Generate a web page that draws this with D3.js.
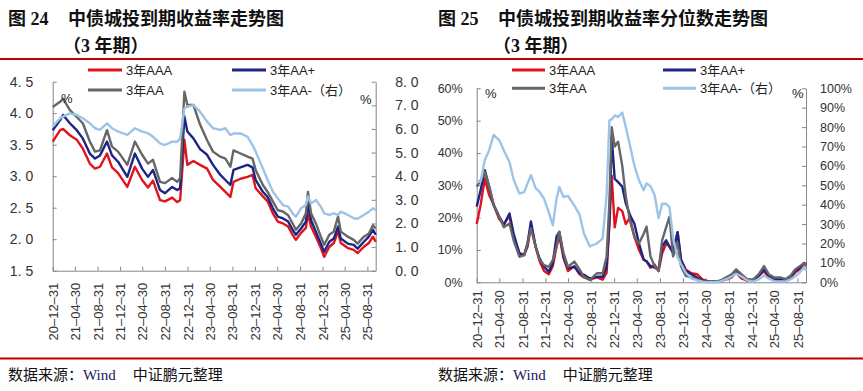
<!DOCTYPE html>
<html>
<head>
<meta charset="utf-8">
<script src="https://cdn.jsdelivr.net/npm/d3@7"></script>
<style>
  body { margin: 0; background: #fff; }
  svg { display: block; }
</style>
</head>
<body>
<script>
// ---- data: 图24 yields (%), AA- on the right axis
const yieldDates = ["2020-12-31","2021-02-09","2021-02-25","2021-04-03","2021-05-10","2021-06-12","2021-07-20","2021-08-17","2021-09-13","2021-10-21",
  "2021-11-17","2021-12-20","2022-02-08","2022-03-21","2022-04-29","2022-05-31","2022-06-27","2022-08-04","2022-08-31","2022-10-09",
  "2022-11-05","2022-11-21","2022-12-14","2022-12-30","2023-02-01","2023-03-09","2023-04-16","2023-05-18","2023-06-27","2023-07-24",
  "2023-08-20","2023-09-06","2023-10-14","2023-11-21","2023-12-18","2024-01-04","2024-02-12","2024-03-09","2024-04-06","2024-05-03",
  "2024-05-31","2024-06-28","2024-07-22","2024-08-09","2024-09-06","2024-10-02","2024-10-13","2024-10-30","2024-11-25","2024-12-22",
  "2025-01-09","2025-02-06","2025-03-02","2025-03-25","2025-04-09","2025-05-17","2025-06-18","2025-07-09","2025-08-12","2025-09-08",
  "2025-09-30","2025-10-15"];
const yieldAAA = [3.55,3.73,3.75,3.65,3.58,3.44,3.20,3.12,3.15,3.36,3.14,3.05,2.83,3.15,2.94,2.82,2.93,2.62,2.60,2.66,
  2.59,2.62,3.58,3.18,3.24,3.18,3.12,2.94,2.83,2.75,2.67,2.91,2.96,2.99,3.02,2.81,2.68,2.60,2.41,2.28,
  2.25,2.20,2.07,1.99,2.10,2.18,2.41,2.20,2.04,1.86,1.72,1.88,1.94,2.12,1.94,1.86,1.83,1.78,1.88,1.94,2.04,1.96];
const yieldAAplus = [3.73,3.89,3.97,3.84,3.73,3.60,3.36,3.28,3.33,3.55,3.33,3.23,2.99,3.36,3.12,2.99,3.10,2.78,2.73,2.83,
  2.78,2.81,3.95,3.71,3.60,3.43,3.34,3.18,3.02,2.94,2.86,3.10,3.14,3.18,3.14,2.94,2.75,2.67,2.49,2.36,
  2.33,2.28,2.15,2.07,2.17,2.28,2.57,2.30,2.12,1.93,1.80,1.96,2.01,2.20,2.01,1.93,1.91,1.85,1.96,2.04,2.15,2.07];
const yieldAA = [4.10,4.18,4.23,4.05,3.94,3.84,3.55,3.39,3.41,3.73,3.47,3.39,3.18,3.55,3.34,3.20,3.26,2.91,2.89,2.97,
  2.91,2.97,4.34,4.13,4.13,3.82,3.57,3.39,3.31,3.28,3.15,3.41,3.36,3.31,3.28,3.10,2.86,2.75,2.60,2.46,
  2.44,2.38,2.25,2.15,2.25,2.41,2.75,2.41,2.25,2.04,1.91,2.07,2.12,2.36,2.12,2.04,1.99,1.93,2.04,2.09,2.22,2.17];
const yieldAAminus = [6.10,6.45,6.52,6.66,6.59,6.45,6.24,6.03,5.96,6.24,6.03,5.89,5.75,6.03,5.89,5.82,5.67,5.39,5.32,5.46,
  5.46,5.60,6.87,6.94,7.01,6.73,6.31,6.03,5.96,6.03,5.74,5.81,5.81,5.67,5.32,5.04,4.33,3.84,3.35,3.06,
  2.78,2.71,2.43,2.29,2.64,2.78,3.14,2.85,2.99,2.71,2.43,2.36,2.43,2.36,2.50,2.36,2.22,2.20,2.36,2.50,2.64,2.57];

// ---- data: 图25 yield percentiles (%), AA- on the right axis
const pctDates = ["2020-12-31","2021-01-21","2021-02-12","2021-03-07","2021-03-31","2021-04-30","2021-05-24","2021-06-23","2021-07-15","2021-08-15",
  "2021-09-09","2021-09-27","2021-10-15","2021-11-09","2021-11-30","2021-12-24","2022-01-18","2022-02-08","2022-02-28","2022-03-15",
  "2022-04-06","2022-04-30","2022-06-03","2022-06-30","2022-07-24","2022-08-24","2022-09-30","2022-10-31","2022-11-21","2022-12-06",
  "2022-12-18","2023-01-03","2023-01-21","2023-02-12","2023-03-03","2023-03-24","2023-04-18","2023-05-12","2023-06-06","2023-06-21",
  "2023-07-12","2023-08-03","2023-08-24","2023-09-12","2023-10-03","2023-10-21","2023-11-09","2023-12-03","2023-12-21","2024-01-15",
  "2024-02-14","2024-03-15","2024-04-15","2024-05-15","2024-06-15","2024-07-15","2024-08-15","2024-09-15","2024-10-09","2024-11-06",
  "2024-12-06","2025-01-06","2025-02-06","2025-03-06","2025-03-31","2025-04-30","2025-05-31","2025-06-30","2025-07-24","2025-08-18",
  "2025-09-12","2025-10-06","2025-10-15"];
const pctAAA = [18,24,32,27,24,19.5,18,20.5,14,9,
  8.5,11,17.5,11,6.5,3.5,2.5,5,11,14.5,
  7.5,3.5,5,2.5,1.5,0.8,1.5,0.8,3,18,
  33,17,23,22,18,20,14,10,7,6.5,
  4.5,5.5,3.5,9,12,11,9.5,15.5,7,4,
  2.8,2.5,0.8,0.3,0.2,0.3,0.8,1.5,3,1.2,
  0.5,0.6,2,3.5,1.5,0.5,0.8,0.5,1.5,3,
  4,5.5,5];
const pctAAplus = [23.4,28.5,34.7,29.6,23.9,20.3,17.7,21.3,15.1,8.9,
  8.4,12,18.8,11,7.4,4.8,3.3,5.9,14.1,15.6,
  7.9,4.3,4.8,2.8,2.3,1.2,1.7,1.7,4.8,19.3,
  45,32,31,29.6,24.4,21,18,12,7,6.5,
  5,4.5,4,11,13,11,9,15.5,7,3.5,
  2.5,1.5,0.5,0.2,0.2,0.4,1,2,3.5,2,
  0.8,0.6,2,4,2,1,1,0.7,1.5,3.5,
  4.5,6,5.5];
const pctAA = [29.6,31.5,34.2,29.6,24,20.3,17,18.2,13,7.9,
  8.4,12,16.7,11,7,5.3,4.8,6.9,11,15.6,
  9,4.8,6.4,4,1.7,0.7,2.8,2.8,8,25,
  48,42,43.5,36,26.5,19.3,14,12,15,17.2,
  8,5,3.5,13,17,20.3,8,12,5,2,
  1.5,1,0.3,0.2,0.2,0.5,1.5,2.5,4,2.5,
  1,0.8,2.5,5,2.5,1.5,1.5,1,2,4,
  5,6,5.5];
const pctAAminus = [51.7,52,63,68,76,73.2,68,62,53,45.7,
  46.5,51,55.2,48.5,46.6,43,36,29.4,43,49.1,
  44,44.5,39.5,35,25,18.5,20,22.5,45,83.5,
  84,86,85.2,87.5,80,71,60,52.6,47.5,51,
  49.5,45,33,40.5,40.5,38.8,23,13,9.5,5,
  2,1,0.3,0,0,0.3,1.5,3,4.5,3,
  1,0.3,1.5,3.5,2,0.5,0.5,0.5,1.5,3,
  5,8,6];

const tickLabels = ["2020-12-31","2021-04-30","2021-08-31","2021-12-31","2022-04-30","2022-08-31","2022-12-31","2023-04-30",
  "2023-08-31","2023-12-31","2024-04-30","2024-08-31","2024-12-31","2025-04-30","2025-08-31"];
const yieldTicksLeft = [1.5, 2.0, 2.5, 3.0, 3.5, 4.0, 4.5];
const yieldTicksRight = [0, 1, 2, 3, 4, 5, 6, 7, 8];
const pctTicksLeft = [0, 10, 20, 30, 40, 50, 60];
const pctTicksRight = [0, 10, 20, 30, 40, 50, 60, 70, 80, 90, 100];
const seriesNames = ["3年AAA", "3年AA+", "3年AA", "3年AA-（右）"];
const colors = ["#e0141e", "#1b2584", "#666666", "#9dc3e6"];

const parse = d3.timeParse("%Y-%m-%d");
const xDomain = [parse("2020-12-31"), parse("2025-10-15")];
const fmtDate = d => d3.timeFormat("%y-%m-%d")(d).replace(/-/g, "–");
const sansFont = "'Liberation Sans', Arial, 'Noto Sans CJK SC', sans-serif";
const cjkFont = "'Noto Sans CJK SC', sans-serif";

const svg = d3.select("body").append("svg")
  .attr("width", 863)
  .attr("height", 391)
  .style("font-family", sansFont);

// header and footer rules
[59, 358.5].forEach(y => {
  svg.append("line").attr("x1", 0).attr("x2", 863).attr("y1", y).attr("y2", y)
    .attr("stroke", "#c00000").attr("stroke-width", 2);
});

function title(x, num, text) {
  const t = svg.append("text").attr("x", x).attr("y", 25)
    .attr("font-size", 18).attr("font-weight", 700).attr("fill", "#111");
  t.append("tspan").attr("font-family", cjkFont).text("图");
  t.append("tspan").attr("font-family", "'Liberation Serif', serif").text(" " + num);
  svg.append("text").attr("x", x + 60).attr("y", 25)
    .attr("font-size", 18).attr("font-weight", 700).attr("fill", "#111")
    .attr("font-family", cjkFont).text(text);
  const t2 = svg.append("text").attr("x", x + 55).attr("y", 52)
    .attr("font-size", 18).attr("font-weight", 700).attr("fill", "#111").attr("font-family", cjkFont);
  t2.append("tspan").text("（");
  t2.append("tspan").attr("font-family", "'Liberation Serif', serif").text("3 ");
  t2.append("tspan").text("年期）");
}
title(8, "24", "中债城投到期收益率走势图");
title(438, "25", "中债城投到期收益率分位数走势图");

function footer(x) {
  const t = svg.append("text").attr("x", x).attr("y", 380).attr("font-size", 15).attr("fill", "#111");
  t.append("tspan").attr("font-family", cjkFont).text("数据来源：");
  t.append("tspan").attr("font-family", "'Liberation Serif', serif").attr("fill", "#14205a").text("Wind");
  t.append("tspan").attr("font-family", cjkFont).attr("dx", 17).text("中证鹏元整理");
}
footer(8);
footer(438);

function drawPanel(p) {
  const x = d3.scaleTime().domain(xDomain).range([p.x0, p.x1]);
  const yL = d3.scaleLinear().domain(p.leftDomain).range([p.yB, p.yT]);
  const yR = d3.scaleLinear().domain(p.rightDomain).range([p.yB, p.yT]);
  const g = svg.append("g");
  const axisColor = "#868686";

  const ax = g.append("g").attr("transform", `translate(${p.x0},0)`)
    .call(d3.axisLeft(yL).tickValues(p.leftTicks).tickSize(-4).tickSizeOuter(0)
      .tickPadding(p.padL).tickFormat(p.fmtL));
  const ay = g.append("g").attr("transform", `translate(${p.x1},0)`)
    .call(d3.axisRight(yR).tickValues(p.rightTicks).tickSize(-4).tickSizeOuter(0)
      .tickPadding(p.padR).tickFormat(p.fmtR));
  const axb = g.append("g").attr("transform", `translate(0,${p.yB})`)
    .call(d3.axisBottom(x).tickValues(tickLabels.map(parse)).tickSize(-4).tickSizeOuter(0)
      .tickFormat(fmtDate));
  axb.selectAll("text")
    .attr("transform", "rotate(-90)")
    .attr("text-anchor", "end")
    .attr("x", -p.padB).attr("y", 0).attr("dy", "0.35em")
    .attr("font-size", p.dateSize);
  [ax, ay, axb].forEach(a => {
    a.attr("color", axisColor).attr("font-family", sansFont);
    a.selectAll("text").attr("fill", "#333");
  });
  ax.selectAll("text").attr("font-size", p.tickSize);
  ay.selectAll("text").attr("font-size", p.tickSize);

  p.series.forEach((s, i) => {
    const y = s.right ? yR : yL;
    const pts = s.values.map((v, k) => [x(parse(s.dates[k])), y(v)]);
    g.append("path")
      .attr("fill", "none")
      .attr("stroke", colors[i])
      .attr("stroke-width", 2.4)
      .attr("stroke-linejoin", "round")
      .attr("d", d3.line()(pts));
  });

  // legend
  p.legend.forEach((pos, i) => {
    g.append("line").attr("x1", pos[0]).attr("x2", pos[0] + p.legLen)
      .attr("y1", pos[1]).attr("y2", pos[1])
      .attr("stroke", colors[i]).attr("stroke-width", 3);
    g.append("text").attr("x", pos[0] + p.legLen + 4).attr("y", pos[1]).attr("dy", "0.35em")
      .attr("font-size", 13).attr("fill", "#222").text(seriesNames[i]);
  });

  p.units.forEach(u => {
    g.append("text").attr("x", u[0]).attr("y", u[1]).attr("dy", "0.35em")
      .attr("font-size", 13).attr("fill", "#222").text("%");
  });
}

drawPanel({
  x0: 52.7, x1: 375.7, yT: 81.7, yB: 270.7,
  leftDomain: [1.5, 4.5], rightDomain: [0, 8],
  leftTicks: yieldTicksLeft, rightTicks: yieldTicksRight,
  fmtL: d => d.toFixed(1).replace(".", ". "), fmtR: d => d.toFixed(1).replace(".", ". "),
  padL: 19.5, padR: 19.5, padB: 12, tickSize: 14, dateSize: 13,
  series: [
    { dates: yieldDates, values: yieldAAA },
    { dates: yieldDates, values: yieldAAplus },
    { dates: yieldDates, values: yieldAA },
    { dates: yieldDates, values: yieldAAminus, right: true }
  ],
  legend: [[88, 70], [232, 70], [88, 90], [232, 90]], legLen: 34,
  units: [[61, 98], [360, 99]]
});

drawPanel({
  x0: 476.7, x1: 806, yT: 88.3, yB: 282.3,
  leftDomain: [0, 60], rightDomain: [0, 100],
  leftTicks: pctTicksLeft, rightTicks: pctTicksRight,
  fmtL: d => d + "%", fmtR: d => d + "%",
  padL: 14, padR: 14, padB: 8, tickSize: 12.5, dateSize: 13,
  series: [
    { dates: pctDates, values: pctAAA },
    { dates: pctDates, values: pctAAplus },
    { dates: pctDates, values: pctAA },
    { dates: pctDates, values: pctAAminus, right: true }
  ],
  legend: [[512, 70], [663, 70], [512, 88.3], [663, 88.3]], legLen: 33,
  units: [[485, 93], [792, 93]]
});
</script>
</body>
</html>
